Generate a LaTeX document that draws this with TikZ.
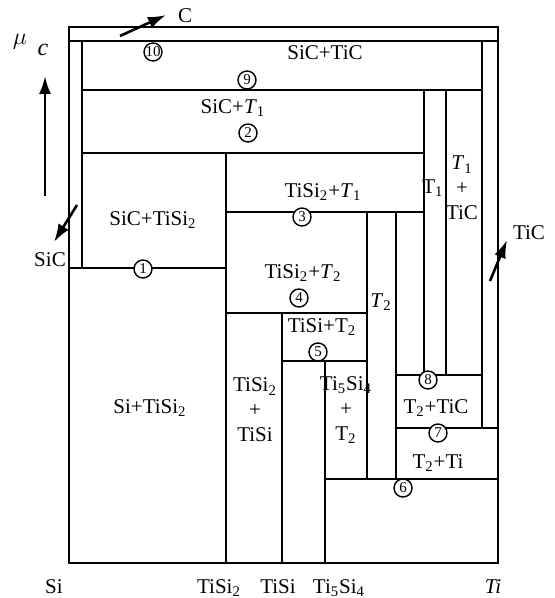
\documentclass[tikz,border=0pt]{standalone}
\usepackage{fontspec}
\setmainfont{Liberation Serif}
\usepackage{tikz}
\usetikzlibrary{arrows.meta}
\newcommand{\sub}[1]{\textsubscript{#1}}

\begin{document}
\begin{tikzpicture}[
    x=0.5pt, y=-0.5pt,
    line width=1.2pt,
    lbl/.style={inner sep=0pt, align=center, font=\fontsize{10.5}{12.5}\selectfont},
    num/.style={circle, draw, fill=white, line width=0.7pt, minimum size=9pt, inner sep=0pt, font=\fontsize{7.5}{7.5}\selectfont},
    arrow/.style={-{Latex[length=9pt,width=6pt]}, line width=1.3pt}
]
\useasboundingbox (0,0) rectangle (554,598);
% frame
\draw (69,27) rectangle (498,563);
\draw (69,41) -- (498,41);
\draw (82,41) -- (82,268);
\draw (69,268) -- (226,268);
\draw (82,90) -- (482,90);
\draw (482,41) -- (482,428);
\draw (82,153) -- (424,153);
\draw (226,153) -- (226,563);
\draw (226,212) -- (424,212);
\draw (424,90) -- (424,375);
\draw (446,90) -- (446,375);
\draw (367,212) -- (367,479);
\draw (396,212) -- (396,479);
\draw (226,313) -- (367,313);
\draw (282,313) -- (282,563);
\draw (282,361) -- (367,361);
\draw (325,361) -- (325,563);
\draw (325,479) -- (498,479);
\draw (396,375) -- (482,375);
\draw (396,428) -- (498,428);

% phase fields
\node[lbl] (sictic) at (325,53) {SiC+TiC};
\node[lbl] (sict1) at (233,108) {SiC+\textit{T}\sub{1}};
\node[lbl] (sictisi2) at (153,220) {SiC+TiSi\sub{2}};
\node[lbl] (tisi2t1) at (323,192) {TiSi\sub{2}+\textit{T}\sub{1}};
\node[lbl] (tisi2t2) at (303,273) {TiSi\sub{2}+\textit{T}\sub{2}};
\node[lbl] (tisit2) at (322,327) {TiSi+T\sub{2}};
\node[lbl] (sitisi2) at (150,408) {Si+TiSi\sub{2}};
\node[lbl] (tisi2tisi) at (255,410) {TiSi\sub{2}\\+\\TiSi};
\node[lbl] (ti5si4t2) at (346,410) {Ti\sub{5}Si\sub{4}\\+\\T\sub{2}};
\node[lbl] (t2col) at (381,302) {\textit{T}\sub{2}};
\node[lbl] (t1col) at (433,188) {T\sub{1}};
\node[lbl] (t1tic) at (462,188) {\textit{T}\sub{1}\\+\\TiC};
\node[lbl] (t2tic) at (436,408) {T\sub{2}+TiC};
\node[lbl] (t2ti) at (438,463) {T\sub{2}+Ti};

% invariant points
\node[num] (n10) at (153,52) {10};
\node[num] (n9) at (247,80) {9};
\node[num] (n2) at (248,133) {2};
\node[num] (n1) at (143,269) {1};
\node[num] (n3) at (302,217) {3};
\node[num] (n4) at (299,298) {4};
\node[num] (n5) at (318,352) {5};
\node[num] (n8) at (428,380) {8};
\node[num] (n7) at (438,433) {7};
\node[num] (n6) at (403,488) {6};

% composition axis
\node[lbl] (si) at (54,587) {Si};
\node[lbl] (tisi2) at (219,588) {TiSi\sub{2}};
\node[lbl] (tisi) at (278,587) {TiSi};
\node[lbl] (ti5si4) at (339,588) {Ti\sub{5}Si\sub{4}};
\node[lbl] (ti) at (493,587) {\textit{Ti}};

% potential axis
\node[lbl, font=\fontsize{13}{13}\selectfont] (mu) at (20,42) {$\mu$};
\node[lbl, font=\fontsize{12}{12}\selectfont] (muc) at (43,50) {\textit{c}};
\coordinate (up0) at (45,196);
\coordinate (up1) at (45,76);
\draw[arrow] (up0) -- (up1);

% gas directions
\node[lbl] (cgas) at (185,16) {C};
\coordinate (c0) at (120,36);
\coordinate (c1) at (166,15);
\draw[arrow] (c0) -- (c1);
\node[lbl] (sic) at (50,260) {SiC};
\coordinate (s0) at (77,205);
\coordinate (s1) at (54,242);
\draw[arrow] (s0) -- (s1);
\node[lbl] (tic) at (529,233) {TiC};
\coordinate (t0) at (490,281);
\coordinate (t1) at (507,240);
\draw[arrow] (t0) -- (t1);
\end{tikzpicture}
\end{document}
